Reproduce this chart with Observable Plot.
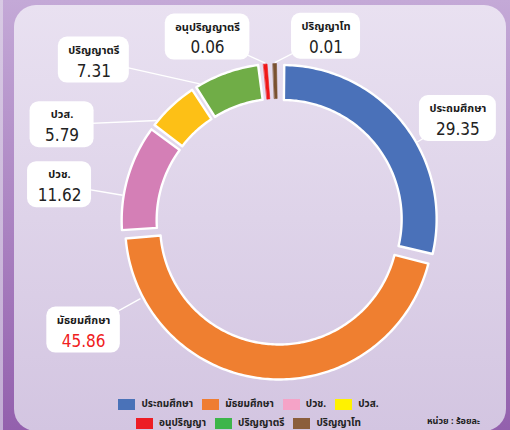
<!DOCTYPE html>
<html><head><meta charset="utf-8">
<script src="https://cdn.jsdelivr.net/npm/d3@7"></script>
<script src="https://cdn.jsdelivr.net/npm/@observablehq/plot@0.6"></script>
<style>
html,body{margin:0;padding:0;width:510px;height:430px;overflow:hidden;}
body{background:linear-gradient(#c4a9d7,#9360ad);position:relative;}
#edge{position:absolute;left:0;top:0;width:3px;height:430px;background:linear-gradient(#d8cae4,#c2acd4);}
#panel{position:absolute;left:14px;top:5px;width:492px;height:426px;border-radius:22px;background:linear-gradient(#e9e1f1,#d3c5e1);}
#chart{position:absolute;left:0;top:0;}
.lrow{position:absolute;display:flex;align-items:center;font-family:'Noto Sans Thai','Noto Sans Thai UI',Loma,Garuda,'Tlwg Typo',sans-serif;font-weight:bold;font-size:10px;color:#222;white-space:nowrap;}
.item{display:flex;align-items:center;margin-right:9px;}
.sw{width:17px;height:11px;margin-right:6px;}
#unit{position:absolute;left:427px;top:414px;font-family:'Noto Sans Thai',Loma,Garuda,sans-serif;font-weight:bold;font-size:9px;color:#222;}
</style></head><body>
<div id="edge"></div>
<div id="panel"></div>
<div id="chart"></div>
<div id="legend"></div>
<div id="unit"></div>
<script>
// ---- data ----
const categories = ["ประถมศึกษา","มัธยมศึกษา","ปวช.","ปวส.","ปริญญาตรี","อนุปริญญาตรี","ปริญญาโท"];
const values = [29.35,45.86,11.62,5.79,7.31,0.06,0.01];
const legendLabels = ["ประถมศึกษา","มัธยมศึกษา","ปวช.","ปวส.","อนุปริญญา","ปริญญาตรี","ปริญญาโท"];
const legendOrder = [0,1,2,3,5,4,6];
const unitLabel = "หน่วย : ร้อยละ";

// ---- styles / layout ----
const sliceColors = ["#4a71b9","#ef7f30","#d47fb6","#fdc016","#70ad47","#f01818","#7a5230"];
const legendColors = ["#4a72b8","#ef7d31","#f5a3c7","#fff200","#ed1c24","#3db54a","#8b5e3c"];
const valueColors = ["#222","#f02020","#222","#222","#222","#222","#222"];
const calloutAngle = [60, 241, 279.5, 294, 311, 338.7, 14.1];   // degrees, clockwise from top
const calloutDist  = [206, 224, 223, 238, 246, 198, 191];
const W = 510, H = 390, CX = 279, CY = 221;
const rOuter = 154, rInner = 119, explode = 4;
const thaiFont = "'Noto Sans Thai','Noto Sans Thai UI',Loma,Garuda,'Tlwg Typo',sans-serif";
const numFont = "'DejaVu Sans Condensed','Liberation Sans Narrow','Arial Narrow','Liberation Sans',sans-serif";

// ---- geometry from data ----
const total = d3.sum(values);
const minDeg = 3.5, sliverDeg = 1.3, padDeg = 0.6;
const raw = values.map(v => Math.max(v / total * 360, minDeg));
const k = 360 / d3.sum(raw);
let acc = 0;
const slices = values.map((v, i) => {
  const span = raw[i] * k;
  const sliver = v / total * 360 < minDeg;
  const pad = sliver ? (span - sliverDeg) / 2 : padDeg;
  const s = {i, a0: acc + pad, a1: acc + span - pad, mid: acc + span / 2, sliver};
  acc += span;
  return s;
});
const rad = d => d * Math.PI / 180;
const pts = [];
for (const s of slices) {
  const ex = explode * Math.sin(rad(s.mid)), ey = explode * Math.cos(rad(s.mid));
  const n = Math.max(2, Math.ceil((s.a1 - s.a0) / 1) + 1);
  const outer = d3.range(n).map(j => s.a0 + (s.a1 - s.a0) * j / (n - 1));
  for (const a of outer) pts.push({key: s.i, sliver: s.sliver, color: sliceColors[s.i], x: ex + rOuter * Math.sin(rad(a)), y: ey + rOuter * Math.cos(rad(a))});
  for (const a of outer.slice().reverse()) pts.push({key: s.i, sliver: s.sliver, color: sliceColors[s.i], x: ex + rInner * Math.sin(rad(a)), y: ey + rInner * Math.cos(rad(a))});
}

// text measurement
const ctx = document.createElement("canvas").getContext("2d");
const measure = (t, f) => { ctx.font = f; return ctx.measureText(t).width; };
const fmt = d3.format(".2f");
const callouts = slices.map(s => {
  const i = s.i;
  const bx = calloutDist[i] * Math.sin(rad(calloutAngle[i]));
  const by = calloutDist[i] * Math.cos(rad(calloutAngle[i]));
  const lo = s.a0 + 2, hi = s.a1 - 2;
  const la = s.sliver ? s.mid : Math.max(lo, Math.min(hi, calloutAngle[i]));
  const er = rOuter + explode + 1;
  const w = Math.max(measure(categories[i], `bold 11px ${thaiFont}`), measure(fmt(values[i]), `17px ${numFont}`)) + 20;
  return {i, name: categories[i], val: fmt(values[i]), vcol: valueColors[i], bx, by, w: Math.max(w, 64),
    lx: er * Math.sin(rad(la)), ly: er * Math.cos(rad(la))};
});

const chart = Plot.plot({
  width: W, height: H, margin: 0,
  x: {domain: [-CX, W - CX], axis: null},
  y: {domain: [CY - H, CY], axis: null},
  color: {type: "identity"},
  style: {background: "transparent", overflow: "visible"},
  marks: [
    Plot.link(callouts, {x1: "bx", y1: "by", x2: "lx", y2: "ly", stroke: "white", strokeWidth: 1.3}),
    Plot.line(pts.filter(d => !d.sliver), {x: "x", y: "y", z: "key", fill: "color", stroke: "white", strokeWidth: 2.4, curve: "linear-closed"}),
    Plot.line(pts.filter(d => d.sliver), {x: "x", y: "y", z: "key", fill: "color", stroke: "color", strokeWidth: 0.6, curve: "linear-closed"}),
    Plot.rect(callouts, {x1: d => d.bx - d.w / 2, x2: d => d.bx + d.w / 2, y1: d => d.by - 23, y2: d => d.by + 23, fill: "white", rx: 9}),
    Plot.text(callouts, {x: "bx", y: d => d.by + 10, text: "name", fontFamily: thaiFont, fontWeight: "bold", fontSize: 11, fill: "#1a1a1a"}),
    Plot.text(callouts, {x: "bx", y: d => d.by - 11, text: "val", fontFamily: numFont, fontSize: 17, fill: "vcol"})
  ]
});
document.getElementById("chart").appendChild(chart);

// legend
const legend = document.getElementById("legend");
const rows = [legendOrder.slice(0, 4), legendOrder.slice(4)];
const rowTops = [396, 415];
rows.forEach((r, ri) => {
  const row = document.createElement("div");
  row.className = "lrow";
  row.style.top = rowTops[ri] + "px";
  row.style.left = "0px"; row.style.width = "506px"; row.style.justifyContent = "center";
  r.forEach(i => {
    const it = document.createElement("div"); it.className = "item";
    const sw = document.createElement("div"); sw.className = "sw"; sw.style.background = legendColors[legendOrder.indexOf(i)];
    const tx = document.createElement("span"); tx.textContent = legendLabels[legendOrder.indexOf(i)];
    it.appendChild(sw); it.appendChild(tx); row.appendChild(it);
  });
  legend.appendChild(row);
});
document.getElementById("unit").textContent = unitLabel;
</script>
</body></html>
